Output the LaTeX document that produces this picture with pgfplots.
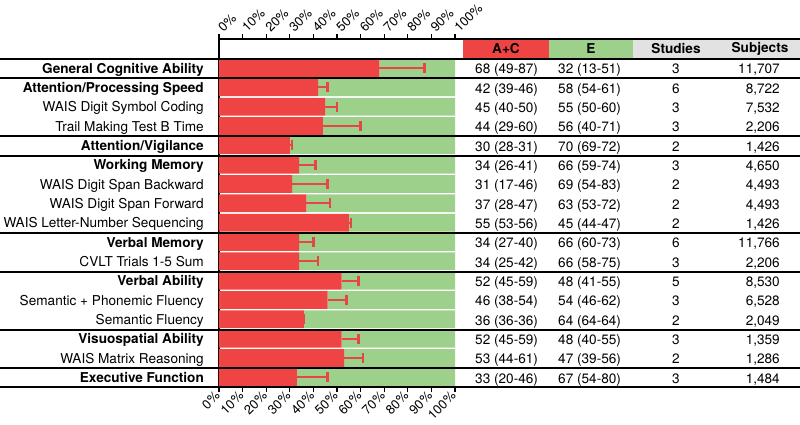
\documentclass[border=0pt]{standalone}
\usepackage{fontspec}
\setmainfont{TeX Gyre Heros}
\usepackage{pgfplots}
\usepackage{pgfplotstable}
\pgfplotsset{compat=1.18}
\definecolor{barred}{HTML}{EE4444}
\definecolor{errred}{HTML}{E84646}
\definecolor{bargreen}{HTML}{9DD18B}
\definecolor{hdrgray}{HTML}{E2E2E2}

\pgfplotstableread{
row ac lo hi e elo ehi studies subjects
0 68 49 87 32 13 51 3 11707
1 42 39 46 58 54 61 6 8722
2 45 40 50 55 50 60 3 7532
3 44 29 60 56 40 71 3 2206
4 30 28 31 70 69 72 2 1426
5 34 26 41 66 59 74 3 4650
6 31 17 46 69 54 83 2 4493
7 37 28 47 63 53 72 2 4493
8 55 53 56 45 44 47 2 1426
9 34 27 40 66 60 73 6 11766
10 34 25 42 66 58 75 3 2206
11 52 45 59 48 41 55 5 8530
12 46 38 54 54 46 62 3 6528
13 36 36 36 64 64 64 2 2049
14 52 45 59 48 40 55 3 1359
15 53 44 61 47 39 56 2 1286
16 33 20 46 67 54 80 3 1484
}\data

\begin{document}
\begin{tikzpicture}[x=1pt,y=1pt]
\useasboundingbox (0pt,0pt) rectangle (800pt,-425pt);
\pgfplotsset{
  common/.style={
    at={(219pt,-39pt)}, anchor=north west,
    scale only axis, width=236pt, height=348pt,
    xmin=0, xmax=100, ymin=-1.5, ymax=16.5, y dir=reverse,
    xtick={0,10,...,100},
    xticklabels={0\%,10\%,20\%,30\%,40\%,50\%,60\%,70\%,80\%,90\%,100\%},
    tick align=outside, major tick length=5pt,
    xtick style={line width=1.3pt, black},
    axis line style={line width=1.8pt, black},
    clip=false,
  }
}
\begin{axis}[common,
  xbar stacked, bar width=0.92,
  axis x line*=bottom, axis y line*=left,
  ytick={0,...,16},
  yticklabels={\textbf{General Cognitive Ability},\textbf{Attention/Processing Speed},WAIS Digit Symbol Coding,Trail Making Test B Time,\textbf{Attention/Vigilance},\textbf{Working Memory},WAIS Digit Span Backward,WAIS Digit Span Forward,WAIS Letter-Number Sequencing,\textbf{Verbal Memory},CVLT Trials 1-5 Sum,\textbf{Verbal Ability},Semantic + Phonemic Fluency,Semantic Fluency,\textbf{Visuospatial Ability},WAIS Matrix Reasoning,\textbf{Executive Function}},
  ytick style={draw=none},
  xticklabel style={rotate=45, anchor=east, font=\fontsize{13}{13}\selectfont, inner sep=2pt},
  yticklabel style={anchor=base east, yshift=-5pt, xshift=-10pt, inner sep=0pt, font=\fontsize{13.6}{16}\selectfont},
]
\addplot[fill=barred, draw=none] table[x=ac, y=row] {\data};
\addplot[fill=bargreen, draw=none] table[x=e, y=row] {\data};
\end{axis}
\begin{axis}[common,
  axis x line*=top, axis y line=none,
  xticklabel shift=3pt,
  xticklabel style={rotate=45, anchor=west, font=\fontsize{13}{13}\selectfont, inner sep=2pt},
]
% upper confidence limit of A+C: line from estimate to upper bound
\addplot[errred, line width=2pt, mark=none,
  quiver={u=\thisrow{hi}-\thisrow{ac}, v=0}]
  table[x=ac, y=row] {\data};
\addplot[errred, only marks, mark=|, mark size=5pt, mark options={line width=2.6pt}]
  table[x=hi, y=row] {\data};
\end{axis}
% header boxes
\fill[barred] (463pt,-39pt) rectangle (549pt,-59pt);
\fill[bargreen] (549pt,-39pt) rectangle (633pt,-59pt);
\fill[hdrgray] (633pt,-39pt) rectangle (800pt,-59pt);
\begin{scope}[font=\fontsize{13.6}{16}\selectfont\bfseries]
\node at (506pt,-49pt) {A+C};
\node at (591pt,-49pt) {E};
\node at (676pt,-49pt) {Studies};
\node at (760pt,-49pt) {Subjects};
\end{scope}
% rules
\draw[line width=1.8pt] (219pt,-39pt) -- (800pt,-39pt);
\foreach \yy in {59, 78.33, 136.33, 155.67, 233, 271.67, 329.67, 368.33, 387}
  \draw[line width=1.8pt] (0pt,-\yy pt) -- (800pt,-\yy pt);
% table text
\begin{scope}[font=\fontsize{13.6}{16}\selectfont]
\foreach \a/\b/\c/\d [count=\i from 0] in {
 {68 (49-87)}/{32 (13-51)}/3/{11,707},
 {42 (39-46)}/{58 (54-61)}/6/{8,722},
 {45 (40-50)}/{55 (50-60)}/3/{7,532},
 {44 (29-60)}/{56 (40-71)}/3/{2,206},
 {30 (28-31)}/{70 (69-72)}/2/{1,426},
 {34 (26-41)}/{66 (59-74)}/3/{4,650},
 {31 (17-46)}/{69 (54-83)}/2/{4,493},
 {37 (28-47)}/{63 (53-72)}/2/{4,493},
 {55 (53-56)}/{45 (44-47)}/2/{1,426},
 {34 (27-40)}/{66 (60-73)}/6/{11,766},
 {34 (25-42)}/{66 (58-75)}/3/{2,206},
 {52 (45-59)}/{48 (41-55)}/5/{8,530},
 {46 (38-54)}/{54 (46-62)}/3/{6,528},
 {36 (36-36)}/{64 (64-64)}/2/{2,049},
 {52 (45-59)}/{48 (40-55)}/3/{1,359},
 {53 (44-61)}/{47 (39-56)}/2/{1,286},
 {33 (20-46)}/{67 (54-80)}/3/{1,484}}{
  \pgfmathsetmacro\yy{-(68.67+19.333*\i)-5}
  \node[anchor=base west, inner sep=0pt] at (475pt,\yy pt) {\a};
  \node[anchor=base west, inner sep=0pt] at (558pt,\yy pt) {\b};
  \node[anchor=base, inner sep=0pt] at (676pt,\yy pt) {\c};
  \node[anchor=base east, inner sep=0pt] at (780pt,\yy pt) {\d};
}
\end{scope}
\end{tikzpicture}
\end{document}
